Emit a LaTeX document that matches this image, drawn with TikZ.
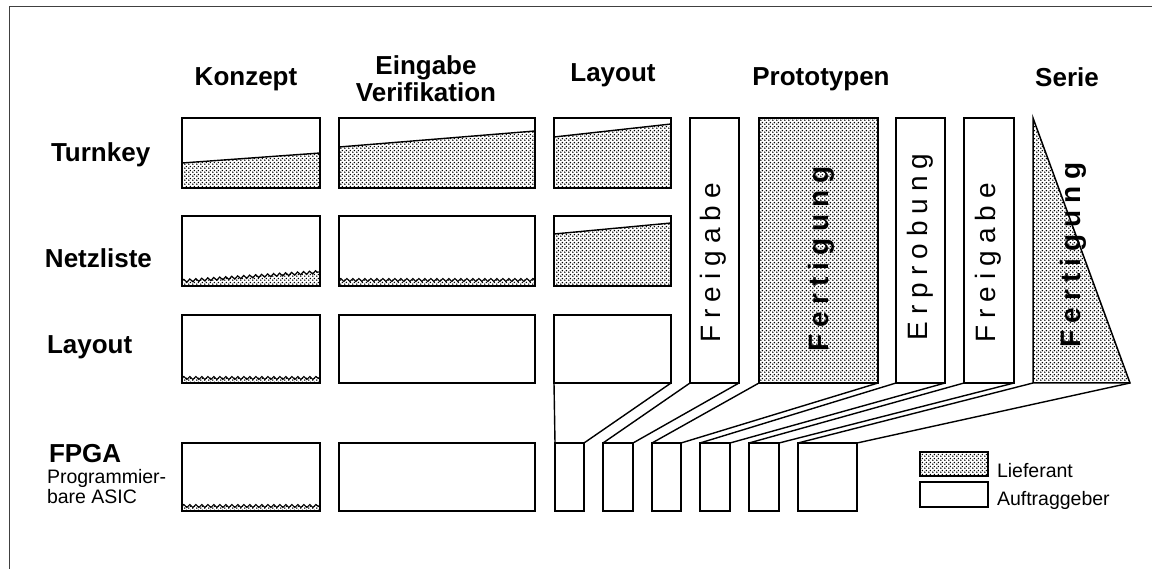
\documentclass[tikz,border=0pt]{standalone}
\usepackage{fontspec}
\setmainfont{Liberation Sans}
\newfontfamily\spacedfont[LetterSpace=25]{Liberation Sans}
\usetikzlibrary{patterns.meta}
\usetikzlibrary{decorations.pathmorphing}

\tikzdeclarepattern{
  name=liefdots,
  bottom left={(0pt,0pt)},
  top right={(4pt,4pt)},
  tile size={(4pt,4pt)},
  code={
    \pgfpathcircle{\pgfqpoint{1pt}{1pt}}{0.95pt}
    \pgfpathcircle{\pgfqpoint{3pt}{3pt}}{0.95pt}
    \pgfusepath{fill}
  }
}

\begin{document}
\begin{tikzpicture}[
    x=1pt, y=-1pt,
    every node/.style={inner sep=0pt, outer sep=0pt},
    headlbl/.style={font=\fontsize{26}{28}\selectfont\bfseries, anchor=base},
    rowlbl/.style={font=\fontsize{26}{28}\selectfont\bfseries, anchor=base west},
    cell/.style={draw, line width=1.5pt},
    pbar/.style={draw, line width=1.5pt, minimum height=265pt},
    stub/.style={draw, line width=1.5pt, minimum height=68pt},
    vtext/.style={rotate=90, font=\fontsize{28}{30}\spacedfont},
    lnk/.style={line width=1.4pt},
    lief/.style={pattern=liefdots},
    wave/.style={decorate, decoration={snake, segment length=6pt, amplitude=1.5pt}, line width=1.2pt},
]
\useasboundingbox (0,0) rectangle (1152,569);
% frame
\draw[line width=1pt, black!75] (1152,7) -- (9,7) -- (9,569);

% === Headings ===
\node[headlbl] (hKonzept) at (246,86) {Konzept};
\node[headlbl] (hEingabe) at (426,75) {Eingabe};
\node[headlbl] (hVerif) at (426,102) {Verifikation};
\node[headlbl] (hLayout) at (613,82) {Layout};
\node[headlbl] (hProto) at (821,86) {Prototypen};
\node[headlbl] (hSerie) at (1067,87) {Serie};

% === Row labels ===
\node[rowlbl] (rTurnkey) at (51,162) {Turnkey};
\node[rowlbl] (rNetz) at (45,268) {Netzliste};
\node[rowlbl] (rLayout) at (47,354) {Layout};
\node[rowlbl] (rFPGA) at (49,462) {FPGA};
\node[font=\fontsize{19.5}{20}\selectfont, align=left, anchor=north west] (rASIC) at (47,469) {Programmier-\\bare ASIC};

% === Shares of the supplier ===
% Turnkey
\fill[lief] (182,163) -- (320,153) -- (320,188) -- (182,188) -- cycle;
\draw[lnk] (182,163) -- (320,153);
\fill[lief] (339,147) -- (535,131) -- (535,188) -- (339,188) -- cycle;
\draw[lnk] (339,147) -- (535,131);
\fill[lief] (554,137) -- (671,124) -- (671,188) -- (554,188) -- cycle;
\draw[lnk] (554,137) -- (671,124);
% Netzliste
\fill[lief] (182,281) -- (320,272) -- (320,286) -- (182,286) -- cycle;
\draw[wave] (182,281) -- (320,272);
\fill[lief] (339,280) -- (535,280) -- (535,286) -- (339,286) -- cycle;
\draw[wave] (339,280) -- (535,280);
\fill[lief] (554,234) -- (671,223) -- (671,286) -- (554,286) -- cycle;
\draw[lnk] (554,234) -- (671,223);
% Layout
\fill[lief] (182,378) -- (320,378) -- (320,383) -- (182,383) -- cycle;
\draw[wave] (182,378) -- (320,378);
% FPGA
\fill[lief] (182,506) -- (320,506) -- (320,511) -- (182,511) -- cycle;
\draw[wave] (182,506) -- (320,506);

% === Boxes ===
\node[cell, minimum width=138pt, minimum height=70pt] (k1) at (251,153) {};
\node[cell, minimum width=196pt, minimum height=70pt] (e1) at (437,153) {};
\node[cell, minimum width=117pt, minimum height=70pt] (l1) at (612.5,153) {};
\node[cell, minimum width=138pt, minimum height=70pt] (k2) at (251,251) {};
\node[cell, minimum width=196pt, minimum height=70pt] (e2) at (437,251) {};
\node[cell, minimum width=117pt, minimum height=70pt] (l2) at (612.5,251) {};
\node[cell, minimum width=138pt, minimum height=68pt] (k3) at (251,349) {};
\node[cell, minimum width=196pt, minimum height=68pt] (e3) at (437,349) {};
\node[cell, minimum width=117pt, minimum height=68pt] (l3) at (612.5,349) {};
\node[cell, minimum width=138pt, minimum height=68pt] (k4) at (251,477) {};
\node[cell, minimum width=196pt, minimum height=68pt] (e4) at (437,477) {};

% === Prototypes ===
\node[pbar, minimum width=49pt] (frei1) at (714.5,250.5) {};
\node[pbar, lief, minimum width=119pt] (fert1) at (818.5,250.5) {};
\node[pbar, minimum width=49pt] (erpr) at (920.5,250.5) {};
\node[pbar, minimum width=50pt] (frei2) at (989,250.5) {};
\node[vtext] (tFrei1) at (713,263) {Freigabe};
\node[vtext, font=\fontsize{28}{30}\spacedfont\bfseries] (tFert1) at (821,259) {Fertigung};
\node[vtext] (tErpr) at (920,247) {Erprobung};
\node[vtext] (tFrei2) at (988,263) {Freigabe};

% === Serie ===
\coordinate (sTop) at (1033,118);
\coordinate (sSW) at (1033,383);
\coordinate (sSE) at (1130,383);
\draw[lief, line width=1.5pt, line join=miter] (sTop) -- (sSE) -- (sSW) -- cycle;
\node[vtext, font=\fontsize{28}{30}\spacedfont\bfseries] (tFert2) at (1073,255) {Fertigung};

% === FPGA stubs ===
\node[stub, minimum width=29pt] (sb1) at (569.5,477) {};
\node[stub, minimum width=30pt] (sb2) at (618,477) {};
\node[stub, minimum width=29pt] (sb3) at (666.5,477) {};
\node[stub, minimum width=30pt] (sb4) at (715,477) {};
\node[stub, minimum width=30pt] (sb5) at (764,477) {};
\node[stub, minimum width=59pt] (sb6) at (827.5,477) {};
\draw[lnk] (l3.south west) -- (sb1.north west);
\draw[lnk] (l3.south east) -- (sb1.north east);
\draw[lnk] (frei1.south west) -- (sb2.north west);
\draw[lnk] (frei1.south east) -- (sb2.north east);
\draw[lnk] (fert1.south west) -- (sb3.north west);
\draw[lnk] (fert1.south east) -- (sb3.north east);
\draw[lnk] (erpr.south west) -- (sb4.north west);
\draw[lnk] (erpr.south east) -- (sb4.north east);
\draw[lnk] (frei2.south west) -- (sb5.north west);
\draw[lnk] (frei2.south east) -- (sb5.north east);
\draw[lnk] (sSW) -- (sb6.north west);
\draw[lnk] (sSE) -- (sb6.north east);

% === Legend ===
\node[cell, lief, minimum width=68pt, minimum height=24pt] (legL) at (954,464) {};
\node[cell, minimum width=68pt, minimum height=25pt] (legA) at (954,494.5) {};
\node[font=\fontsize{19.5}{20}\selectfont, anchor=base west] (tLief) at (997,477) {Lieferant};
\node[font=\fontsize{19.5}{20}\selectfont, anchor=base west] (tAuft) at (997,505) {Auftraggeber};
\end{tikzpicture}
\end{document}
